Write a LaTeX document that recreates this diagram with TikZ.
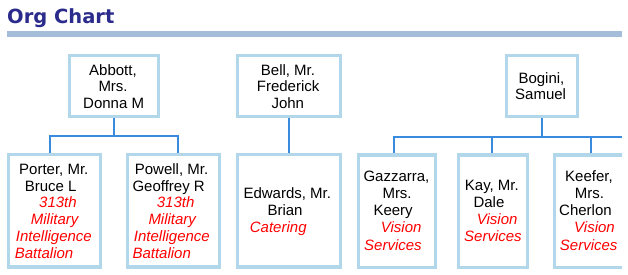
\documentclass[tikz,border=0pt]{standalone}
\usepackage{fontspec}
\setmainfont{Liberation Sans}
\newfontfamily\titlefont{DejaVu Sans}
\definecolor{boxblue}{RGB}{178,215,235}
\definecolor{connblue}{RGB}{58,138,222}
\definecolor{titleblue}{RGB}{43,43,140}
\definecolor{ruleblue}{RGB}{164,190,218}
\definecolor{deptred}{RGB}{255,0,0}
\newcommand\orgbox[5]{\node[orgframe, minimum width={(#3-#2-3.3)*1pt}, minimum height={(#5-#4-3.3)*1pt}] (#1) at ({(#2+#3)/2},{-(#4+#5)/2}) {};}
\newcommand\orgname[4]{\node[nametxt] (#1) at (#2-1,-#3) {#4};}
\newcommand\orgdept[4]{\node[depttxt] (#1) at (#2-1,-#3) {#4};}
\begin{document}
\begin{tikzpicture}[x=1pt,y=1pt,
  orgframe/.style={draw=boxblue, line width=3.3pt, rectangle, inner sep=0pt},
  nametxt/.style={anchor=base west, inner sep=0pt, font=\fontsize{15}{17}\selectfont, text=black},
  depttxt/.style={anchor=base west, inner sep=0pt, font=\fontsize{15}{17}\selectfont\itshape, text=deptred},
  conn/.style={draw=connblue, line width=1.3pt}]
\useasboundingbox (0,0) rectangle (628,-275);
% title
\node[anchor=base west, inner sep=0pt, text=titleblue, font=\titlefont\bfseries\fontsize{19.5}{22}\selectfont] (title) at (7,-24) {Org Chart};
\fill[ruleblue] (7,-31) rectangle (622,-37.5);
\begin{scope}
\clip (0,0) rectangle (622,-275);
% boxes
\orgbox{abbott}{68}{160}{54}{118}
\orgbox{bell}{236}{342}{54}{118}
\orgbox{bogini}{505}{579}{54}{118.5}
\orgbox{porter}{7}{102}{153}{268.5}
\orgbox{powell}{126}{221}{153}{268.5}
\orgbox{edwards}{236}{342}{153}{268.5}
\orgbox{gazzarra}{357}{437}{153.5}{269}
\orgbox{kay}{457}{529}{153.5}{269}
\orgbox{keefer}{553}{632}{153.5}{269}
% connectors
\coordinate (ja) at (114,-136);
\coordinate (jb) at (542,-137);
\coordinate (jbend) at (622,-137);
\draw[conn] (abbott.south) -- (ja);
\draw[conn] (ja) -| ([xshift=-4.5pt]porter.north);
\draw[conn] (ja) -| ([xshift=4.5pt]powell.north);
\draw[conn] (bell.south) -- (edwards.north);
\draw[conn] (bogini.south) -- (jb);
\draw[conn] (jb) -| ([xshift=-3pt]gazzarra.north);
\draw[conn] (jb) -| ([xshift=-1pt]kay.north);
\draw[conn] (jb) -- (jbend);
\draw[conn] ([xshift=-1.5pt]keefer.north) -- ([xshift=-1.5pt]keefer.north |- jb);
\end{scope}
% texts
\orgname{a1}{90}{75.8}{Abbott,}
\orgname{a2}{99.3}{92}{Mrs.}
\orgname{a3}{84}{108.4}{Donna M}
\orgname{b1}{261.7}{75.5}{Bell, Mr.}
\orgname{b2}{257.7}{92}{Frederick}
\orgname{b3}{272.3}{108.4}{John}
\orgname{c1}{519.3}{83.3}{Bogini,}
\orgname{c2}{516}{100}{Samuel}
\orgname{p1}{20}{174.3}{Porter, Mr.}
\orgname{p2}{25.7}{191}{Bruce L}
\orgdept{p3}{40}{207.7}{313th}
\orgdept{p4}{31.7}{224.5}{Military}
\orgdept{p5}{16.7}{241.5}{Intelligence}
\orgdept{p6}{15.7}{258.3}{Battalion}
\orgname{q1}{135.7}{174.3}{Powell, Mr.}
\orgname{q2}{133.3}{191}{Geoffrey R}
\orgdept{q3}{157.7}{207.7}{313th}
\orgdept{q4}{149.3}{224.5}{Military}
\orgdept{q5}{134.7}{241.5}{Intelligence}
\orgdept{q6}{133.3}{258.3}{Battalion}
\orgname{e1}{244.3}{198.3}{Edwards, Mr.}
\orgname{e2}{268.3}{215.5}{Brian}
\orgdept{e3}{250.7}{232.5}{Catering}
\orgname{g1}{364.3}{181.7}{Gazzarra,}
\orgname{g2}{383.3}{198.7}{Mrs.}
\orgname{g3}{374.3}{215.7}{Keery}
\orgdept{g4}{381.7}{232.7}{Vision}
\orgdept{g5}{365}{250}{Services}
\orgname{k1}{465.7}{190}{Kay, Mr.}
\orgname{k2}{474.3}{207}{Dale}
\orgdept{k3}{477.7}{224}{Vision}
\orgdept{k4}{465}{241.7}{Services}
\orgname{f1}{566}{181.7}{Keefer,}
\orgname{f2}{575.7}{198.7}{Mrs.}
\orgname{f3}{560}{215.7}{Cherlon}
\orgdept{f4}{575}{232.7}{Vision}
\orgdept{f5}{560.7}{250}{Services}
\end{tikzpicture}
\end{document}
